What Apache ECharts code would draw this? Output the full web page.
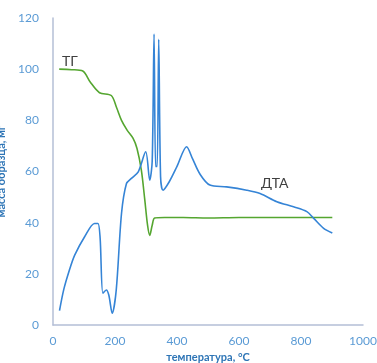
<!DOCTYPE html>
<html>
<head>
<meta charset="utf-8">
<script src="https://cdn.jsdelivr.net/npm/echarts@6/dist/echarts.min.js"></script>
<style>
  html, body { margin: 0; padding: 0; background: #fff; }
  #chart { width: 377px; height: 363px; }
</style>
</head>
<body>
<div id="chart"></div>
<script>
// ТГ (масса образца), [температура, значение]
const tgData = [
  [20, 100], [60, 99.8], [96, 99.3], [120, 95], [150, 90.8], [188, 89.7],
  [205, 85], [221, 80], [240, 76], [258, 73], [271, 69], [285, 60.5],
  [296, 49], [305, 39], [312, 35], [320, 39], [328, 41.8], [360, 42],
  [420, 42], [500, 41.8], [600, 42], [700, 42], [800, 42], [901, 42]
]
// ДТА
const dtaData = [
  [21, 5.6], [35, 14], [53, 21.5], [70, 27.3], [102, 34.5], [134, 39.7],
  [145, 39.7], [152, 34], [161, 12.4], [172, 13.7], [180, 11.7], [191, 4.6],
  [204, 13.7], [221, 43.6], [237, 55.3], [253, 57.3], [275, 59.9], [299, 67.7],
  [312, 56.6], [320, 64], [326, 113.7], [331, 62], [336, 62], [341, 111.7],
  [347, 58], [355, 52.7], [375, 56], [400, 62], [431, 69.7], [450, 65],
  [474, 59], [506, 54.7], [560, 54], [625, 52.7], [668, 51.4], [722, 48.2],
  [776, 46.2], [819, 44.3], [841, 41.7], [873, 37.8], [901, 36]
]
const xTicks = [0, 200, 400, 600, 800, 1000]
const yTicks = [0, 20, 40, 60, 80, 100, 120]

var myChart = echarts.init(document.getElementById('chart'))

let option = {
  animation: false,
  textStyle: { fontFamily: 'Lato' },
  grid: { left: 53, right: 14, top: 18, bottom: 38, outerBoundsMode: 'none', containLabel: false },
  xAxis: {
    type: 'value',
    min: xTicks[0],
    max: xTicks[xTicks.length - 1],
    interval: 200,
    name: 'температура, °C',
    nameLocation: 'middle',
    nameGap: 25,
    nameTextStyle: { color: '#2e75b6', fontWeight: 'bold', fontSize: 11 },
    axisLine: { lineStyle: { color: '#b4bfd6', width: 1.5 } },
    axisTick: { show: false },
    splitLine: { show: false },
    axisLabel: { color: '#5b9bd5', fontSize: 12, margin: 10, formatter: v => String(v) }
  },
  yAxis: {
    type: 'value',
    min: yTicks[0],
    max: yTicks[yTicks.length - 1],
    interval: 20,
    name: 'масса образца, мг',
    nameLocation: 'middle',
    nameGap: 38,
    nameTextStyle: { color: '#2e75b6', fontWeight: 'bold', fontSize: 11 },
    axisLine: { show: true, lineStyle: { color: '#b4bfd6', width: 1.5 } },
    axisTick: { show: false },
    splitLine: { show: false },
    axisLabel: { color: '#5b9bd5', fontSize: 12, margin: 14 }
  },
  series: [
    {
      name: 'ТГ',
      type: 'line',
      data: tgData,
      showSymbol: false,
      smooth: 0.3,
      lineStyle: { color: '#55a630', width: 1.6 }
    },
    {
      name: 'ДТА',
      type: 'line',
      data: dtaData,
      showSymbol: false,
      smooth: 0.3,
      lineStyle: { color: '#3584d6', width: 1.6 }
    }
  ],
  graphic: [
    { type: 'text', left: 62, top: 54, style: { text: 'ТГ', fill: '#404040', font: '14px Lato' } },
    { type: 'text', left: 261, top: 176, style: { text: 'ДТА', fill: '#404040', font: '14px Lato' } }
  ]
}
myChart.setOption(option)
</script>
</body>
</html>
